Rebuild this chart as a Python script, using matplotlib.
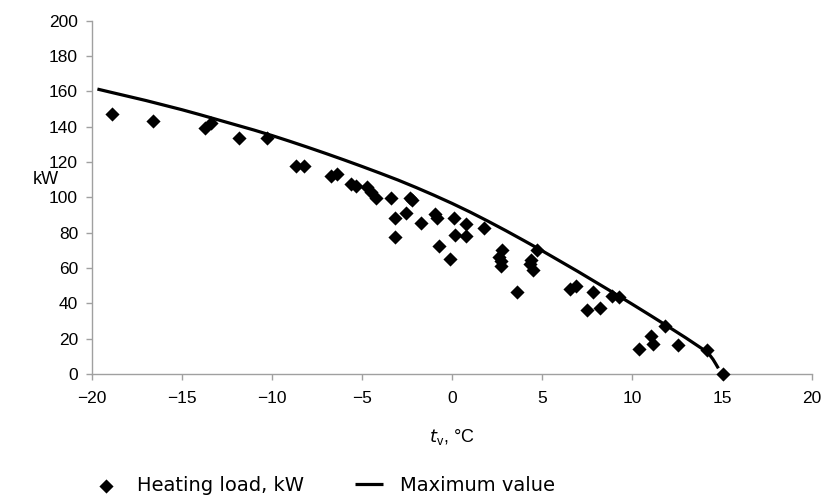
import matplotlib
matplotlib.use("Agg")
import matplotlib.pyplot as plt

plt.rcParams['font.family'] = ['Liberation Sans', 'DejaVu Sans']

# Measured heating load (outdoor temperature, kW)
load_t = [-18.9, -16.6, -13.7, -13.4, -11.85, -10.3, -8.65, -8.2, -6.7, -6.4,
          -5.6, -5.35, -4.7, -4.5, -4.25, -3.4, -2.35, -2.2, -3.15, -2.55,
          -3.15, -1.7, -0.95, -0.85, 0.1, 0.75, 0.15, 0.75, -0.75, -0.1,
          1.8, 2.8, 2.6, 2.7, 2.7, 4.7, 4.4, 4.35, 4.5, 3.6,
          6.55, 6.9, 7.85, 7.5, 8.2, 8.9, 9.3, 11.85, 11.05, 11.15,
          10.4, 12.55, 14.15, 15.05]
load_kw = [147, 143, 139.5, 142, 133.5, 133.5, 118, 118, 112.3, 113.5,
           107.5, 106.5, 105.8, 103, 99.8, 99.8, 99.8, 98.5, 88.5, 91.4,
           77.8, 85.3, 90.5, 88.3, 88.3, 84.8, 78.6, 78.4, 72.7, 65.3,
           82.5, 70.4, 66.4, 63.8, 61.3, 70.2, 64.5, 62.3, 58.7, 46.2,
           48.0, 50.0, 46.3, 36.2, 37.3, 44.0, 43.4, 27.0, 21.5, 17.0,
           14.3, 16.2, 13.4, 0.0]

# Maximum value curve
max_t = [-19.7, -19, -18, -17, -16, -15, -14, -13, -12, -11, -10, -9, -8,
         -7, -6, -5, -4, -3, -2, -1, 0, 1, 2, 3, 4, 5, 6, 7, 8, 9, 10, 11,
         12, 13, 14, 14.3, 14.5, 14.65, 14.8]
max_kw = [161.3, 159.6, 157.2, 154.8, 152.2, 149.6, 146.8, 143.9, 141.0,
          138.1, 135.0, 131.7, 128.3, 124.8, 121.2, 117.5, 113.7, 109.8,
          105.6, 101.2, 96.6, 91.7, 86.5, 81.1, 75.5, 69.8, 63.9, 58.0,
          51.9, 45.8, 39.6, 33.3, 26.9, 20.4, 13.6, 11.0, 8.3, 5.8, 3.2]

x_ticks = [-20, -15, -10, -5, 0, 5, 10, 15, 20]
y_ticks = [0, 20, 40, 60, 80, 100, 120, 140, 160, 180, 200]

fig = plt.figure(figsize=(8.22, 4.99), dpi=100)
W, H = 822, 499
ax = fig.add_axes([92 / W, 1 - 374 / H, (812 - 92) / W, (374 - 20.7) / H])

ax.scatter(load_t, load_kw, marker='D', s=52, color='black', linewidths=0,
           label='Heating load, kW', zorder=3, clip_on=False)
ax.plot(max_t, max_kw, color='black', lw=2.3, label='Maximum value',
        solid_capstyle='butt', solid_joinstyle='round', zorder=2)

ax.set_xlim(-20, 20)
ax.set_ylim(0, 200)
ax.set_xticks(x_ticks)
ax.set_yticks(y_ticks)

for s in ['top', 'right']:
    ax.spines[s].set_visible(False)
for s in ['left', 'bottom']:
    ax.spines[s].set_color('#a0a0a0')
    ax.spines[s].set_linewidth(1.0)
ax.tick_params(axis='both', direction='out', length=4, width=1.0,
               color='#a0a0a0', labelsize=12.5, labelcolor='black')
ax.tick_params(axis='y', pad=6)
ax.tick_params(axis='x', pad=8)

ax.set_ylabel('kW', rotation=0, fontsize=13, ha='center', va='center')
ax.yaxis.set_label_coords((46 - 92) / 720, (374 - 180) / 353.3)
ax.set_xlabel(r'$t$$_\mathregular{v}$, °C', fontsize=13)
ax.xaxis.set_label_coords(0.5, -0.15)

fig.legend(loc='lower left', bbox_to_anchor=(88 / W, 0.0), ncol=2,
           frameon=False, prop={'family': 'DejaVu Sans', 'size': 14},
           handlelength=1.44, handletextpad=0.9, columnspacing=2.6,
           borderaxespad=0, borderpad=0.2, markerscale=1.0)

fig.savefig('out.png', dpi=100)
